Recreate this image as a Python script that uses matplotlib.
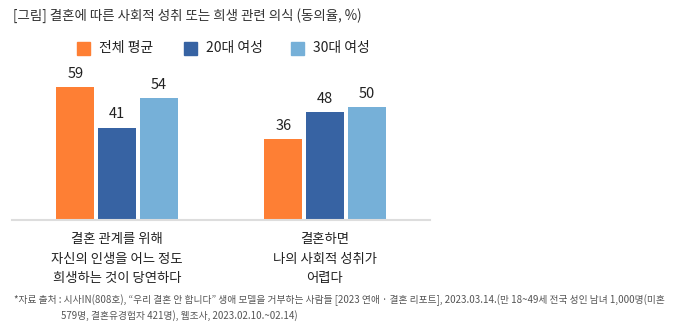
import numpy as np
import matplotlib.pyplot as plt
from matplotlib.patches import Rectangle

plt.rcParams['font.family'] = ['Noto Sans CJK KR', 'DejaVu Sans']

# data
categories = ['결혼 관계를 위해\n자신의 인생을 어느 정도\n희생하는 것이 당연하다',
              '결혼하면\n나의 사회적 성취가\n어렵다']
series_names = ['전체 평균', '20대 여성', '30대 여성']
overall = [59, 36]
women_20s = [41, 48]
women_30s = [54, 50]
colors = ['#FE7F34', '#3763A3', '#76B0D8']

title = '[그림] 결혼에 따른 사회적 성취 또는 희생 관련 의식 (동의율, %)'
source = ('*자료 출처 : 시사IN(808호), “우리 결혼 안 합니다” 생애 모델을 거부하는 사람들 '
          '[2023 연애 · 결혼 리포트], 2023.03.14.(만 18~49세 전국 성인 남녀 1,000명(미혼')
source2 = '579명, 결혼유경험자 421명), 웹조사, 2023.02.10.~02.14)'

W, H = 675, 333
fig = plt.figure(figsize=(W / 100, H / 100), dpi=100)
ax = fig.add_axes([12 / W, 1 - 220 / H, 418 / W, 160 / H])

x = np.arange(len(categories))
width = 0.183
offsets = [-width - 0.018, 0, width + 0.018]
for vals, off, c in zip([overall, women_20s, women_30s], offsets, colors):
    bars = ax.bar(x + off + 0.005, vals, width=width, color=c)
    for b, v in zip(bars, vals):
        ax.text(b.get_x() + b.get_width() / 2, v + 2.8, str(v), ha='center', va='bottom',
                fontsize=10.5, color='#222222')

ax.set_xlim(-0.5, 1.51)
ax.set_ylim(0, 71)
ax.set_yticks([])
ax.set_xticks([])
for s in ['top', 'right', 'left']:
    ax.spines[s].set_visible(False)
ax.spines['bottom'].set_color('#dddddd')
ax.spines['bottom'].set_linewidth(1.5)

for xi, cat in zip(x, categories):
    ax.text(xi + 0.005, -5.5, cat, ha='center', va='top', fontsize=9.6, color='#222222',
            linespacing=1.5)

# title
fig.text(13 / W, 1 - 16 / H, title, ha='left', va='center', fontsize=9.7, color='#333333')

# legend
for i, (name, c) in enumerate(zip(series_names, colors)):
    lx = 77 + i * 107
    fig.add_artist(Rectangle((lx / W, 1 - 55 / H), 13 / W, 13 / H, color=c,
                             transform=fig.transFigure))
    fig.text((lx + 22) / W, 1 - 48 / H, name, ha='left', va='center', fontsize=10,
             color='#222222')

# source
fig.text(14 / W, 1 - 300 / H, source, ha='left', va='center', fontsize=7.0, color='#555555')
fig.text(61 / W, 1 - 316 / H, source2, ha='left', va='center', fontsize=7.0, color='#555555')

fig.savefig('out.png', dpi=100)
